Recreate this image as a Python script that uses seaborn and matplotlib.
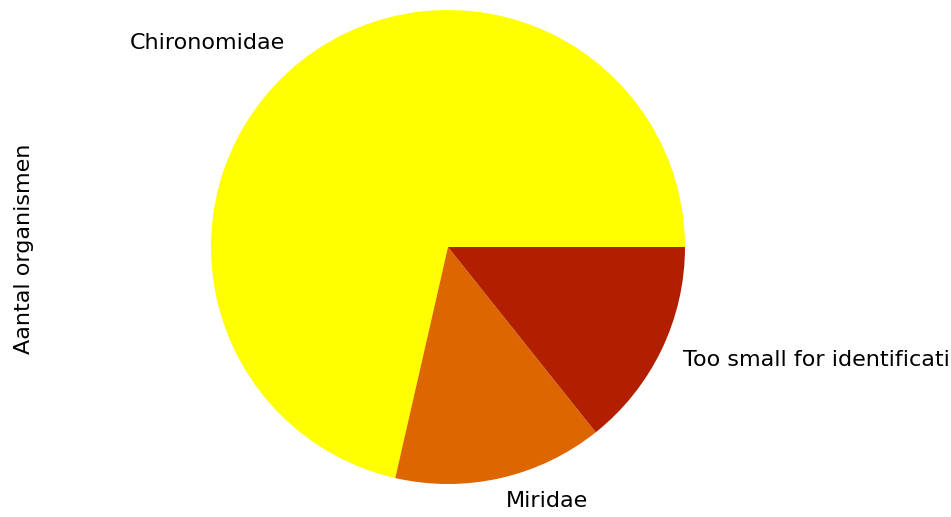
import matplotlib
matplotlib.use("Agg")
import matplotlib.pyplot as plt
import seaborn as sns

# counts per family
families = ["Chironomidae", "Miridae", "Too small for identification"]
counts = [5, 1, 1]
pie_colors = ["#ffff00", "#dd6600", "#b11e00"]

sns.set_style("white")
plt.rcParams['font.family'] = ['DejaVu Sans']
plt.rcParams['text.color'] = 'black'
plt.rcParams['axes.labelcolor'] = 'black'

fig = plt.figure(figsize=(9.51, 5.17), dpi=100)
W, H = 951, 517
cx, cy, r = 448, 517 - 247, 237  # pie centre / radius in pixels
left, right = 40, 856
bottom, top = 20, 517  # axes extent in pixels from the bottom
ax = fig.add_axes([left / W, bottom / H, (right - left) / W, (top - bottom) / H])

palette = sns.color_palette(pie_colors)
ax.pie(counts, labels=families, colors=palette,
       wedgeprops={'linewidth': 0}, textprops={'fontsize': 16})
ax.set_aspect('auto')
ax.set_xlim((left - cx) / r, (right - cx) / r)
ax.set_ylim((bottom - cy) / r, (top - cy) / r)
ax.set_ylabel("Aantal organismen", fontsize=16)
ax.set_xticks([])
ax.set_yticks([])
for s in ax.spines.values():
    s.set_visible(False)

fig.savefig("out.png", dpi=100)
